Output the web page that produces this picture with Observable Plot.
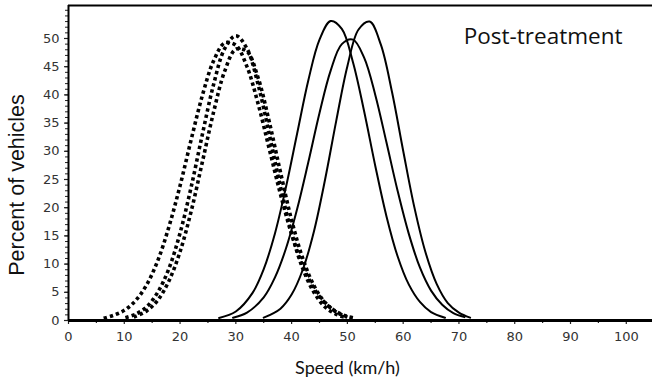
<!DOCTYPE html>
<html>
<head>
<meta charset="utf-8">
<script src="https://cdn.jsdelivr.net/npm/d3@7"></script>
<script src="https://cdn.jsdelivr.net/npm/@observablehq/plot@0.6"></script>
<style>
  html, body { margin: 0; padding: 0; background: #fff; }
</style>
</head>
<body>
<div id="chart"></div>
<script>
// ---- Data ----
// Dotted curves (three)
const dot1Speed = [6.3, 8, 10, 12, 14, 16, 18, 20, 22, 24, 26, 28, 30, 32, 34, 36, 38, 40, 42, 44, 46, 48, 50, 51.4];
const dot1Pct   = [0.4, 0.9, 1.8, 3.5, 6.3, 10.6, 16.6, 23.9, 32.1, 39.9, 46.0, 49.2, 48.8, 45.0, 38.4, 30.4, 22.4, 15.3, 9.7, 5.7, 3.1, 1.6, 0.7, 0.4];
const dot2Speed = [10.2, 12, 14, 16, 18, 20, 22, 24, 26, 28, 30, 32, 34, 36, 38, 40, 42, 44, 46, 48, 49.8];
const dot2Pct   = [0.5, 1.1, 2.4, 5.0, 9.2, 15.5, 23.7, 33.0, 41.8, 48.2, 50.5, 48.2, 41.8, 33.0, 23.7, 15.5, 9.2, 5.0, 2.4, 1.1, 0.5];
const dot3Speed = [11.7, 14, 16, 18, 20, 22, 24, 26, 28, 30, 32, 34, 36, 38, 40, 42, 44, 46, 48, 50];
const dot3Pct   = [0.6, 1.7, 3.6, 7.0, 12.2, 19.4, 28.1, 36.9, 44.2, 48.1, 47.7, 43.0, 35.2, 26.3, 17.8, 11.0, 6.2, 3.2, 1.5, 0.6];
// Solid curves (three)
const sol1Speed = [27, 30, 33, 35, 37, 39, 41, 43, 45, 47, 49, 51, 53, 55, 57, 59, 61, 63, 65, 67.5];
const sol1Pct   = [0.45, 1.6, 4.9, 9.1, 15.4, 23.7, 33.2, 42.6, 49.8, 53.1, 51.7, 45.8, 37.1, 27.4, 18.5, 11.4, 6.4, 3.3, 1.5, 0.5];
const sol2Speed = [29.5, 32, 35, 37, 39, 41, 43, 45, 47, 49, 51, 53, 55, 57, 59, 61, 63, 65, 67, 69, 71];
const sol2Pct   = [0.5, 1.4, 4.1, 7.6, 12.8, 19.8, 28.1, 36.8, 44.3, 49.0, 49.8, 46.6, 40.0, 31.6, 23.0, 15.4, 9.4, 5.3, 2.8, 1.3, 0.6];
const sol3Speed = [35, 38, 40, 42, 44, 46, 48, 50, 52, 54, 56, 58, 60, 62, 64, 66, 68, 70, 72];
const sol3Pct   = [0.5, 2.1, 4.6, 9.0, 15.8, 25.0, 35.4, 45.1, 51.6, 53.0, 48.9, 40.5, 30.1, 20.1, 12.1, 6.5, 3.1, 1.4, 0.5];

// Tick labels
const xTicks = [0, 10, 20, 30, 40, 50, 60, 70, 80, 90, 100];
const xMinorTicks = d3.range(5, 105, 10);
const yTicks = [0, 5, 10, 15, 20, 25, 30, 35, 40, 45, 50];
const yMinorTicks = d3.range(0, 56, 1);
const xDomain = [0, 104.7];
const yDomain = [0, 55.85];
const panelTitle = "Post-treatment";
const xTitle = "Speed (km/h)";
const yTitle = "Percent of vehicles";

const toRows = (xs, ys) => xs.map((s, i) => ({speed: s, pct: ys[i]}));
const dotted = [toRows(dot1Speed, dot1Pct), toRows(dot2Speed, dot2Pct), toRows(dot3Speed, dot3Pct)];
const solid = [toRows(sol1Speed, sol1Pct), toRows(sol2Speed, sol2Pct), toRows(sol3Speed, sol3Pct)];

const tickFont = {fontFamily: "DejaVu Sans", fontSize: 13, fill: "#333"};

const plot = Plot.plot({
  width: 652,
  height: 385,
  marginLeft: 68,
  marginRight: 0,
  marginTop: 5,
  marginBottom: 65,
  style: {fontFamily: "DejaVu Sans", fontSize: "13px", background: "#fff", color: "#222"},
  x: {domain: xDomain, label: null},
  y: {domain: yDomain, label: null},
  marks: [
    ...dotted.map(d => Plot.line(d, {x: "speed", y: "pct", curve: "catmull-rom", stroke: "#000", strokeWidth: 3.6, strokeDasharray: "3.4,3", strokeLinecap: "butt"})),
    ...solid.map(d => Plot.line(d, {x: "speed", y: "pct", curve: "catmull-rom", stroke: "#000", strokeWidth: 2})),
    Plot.axisX({ticks: xMinorTicks, tickSize: 3, text: null, label: null, strokeWidth: 1.2}),
    Plot.axisX({ticks: xTicks, tickSize: 4, tickPadding: 7, tickFormat: d => String(d), label: null, strokeWidth: 1.2, ...tickFont}),
    Plot.axisY({ticks: yMinorTicks, tickSize: 3, text: null, label: null, strokeWidth: 1}),
    Plot.axisY({ticks: yTicks, tickSize: 4, tickPadding: 5, tickFormat: d => String(d), label: null, strokeWidth: 1.2, ...tickFont}),
    Plot.ruleY([yDomain[0]], {stroke: "#000", strokeWidth: 3}),
    Plot.ruleY([yDomain[1]], {stroke: "#000", strokeWidth: 2}),
    Plot.ruleX([xDomain[0]], {stroke: "#000", strokeWidth: 2}),
    Plot.text([panelTitle], {frameAnchor: "top-right", textAnchor: "end", dx: -30, dy: 23, fontFamily: "Open Sans", fontSize: 22.5, fill: "#111"}),
    Plot.text([xTitle], {frameAnchor: "bottom", dx: -13, dy: 53, fontFamily: "Lato", fontSize: 18, fill: "#111"}),
    Plot.text([yTitle], {frameAnchor: "left", textAnchor: "middle", rotate: -90, dx: -51, dy: 22, fontFamily: "Liberation Sans", fontSize: 21.5, fill: "#111"})
  ]
});
document.getElementById("chart").appendChild(plot);
</script>
</body>
</html>
